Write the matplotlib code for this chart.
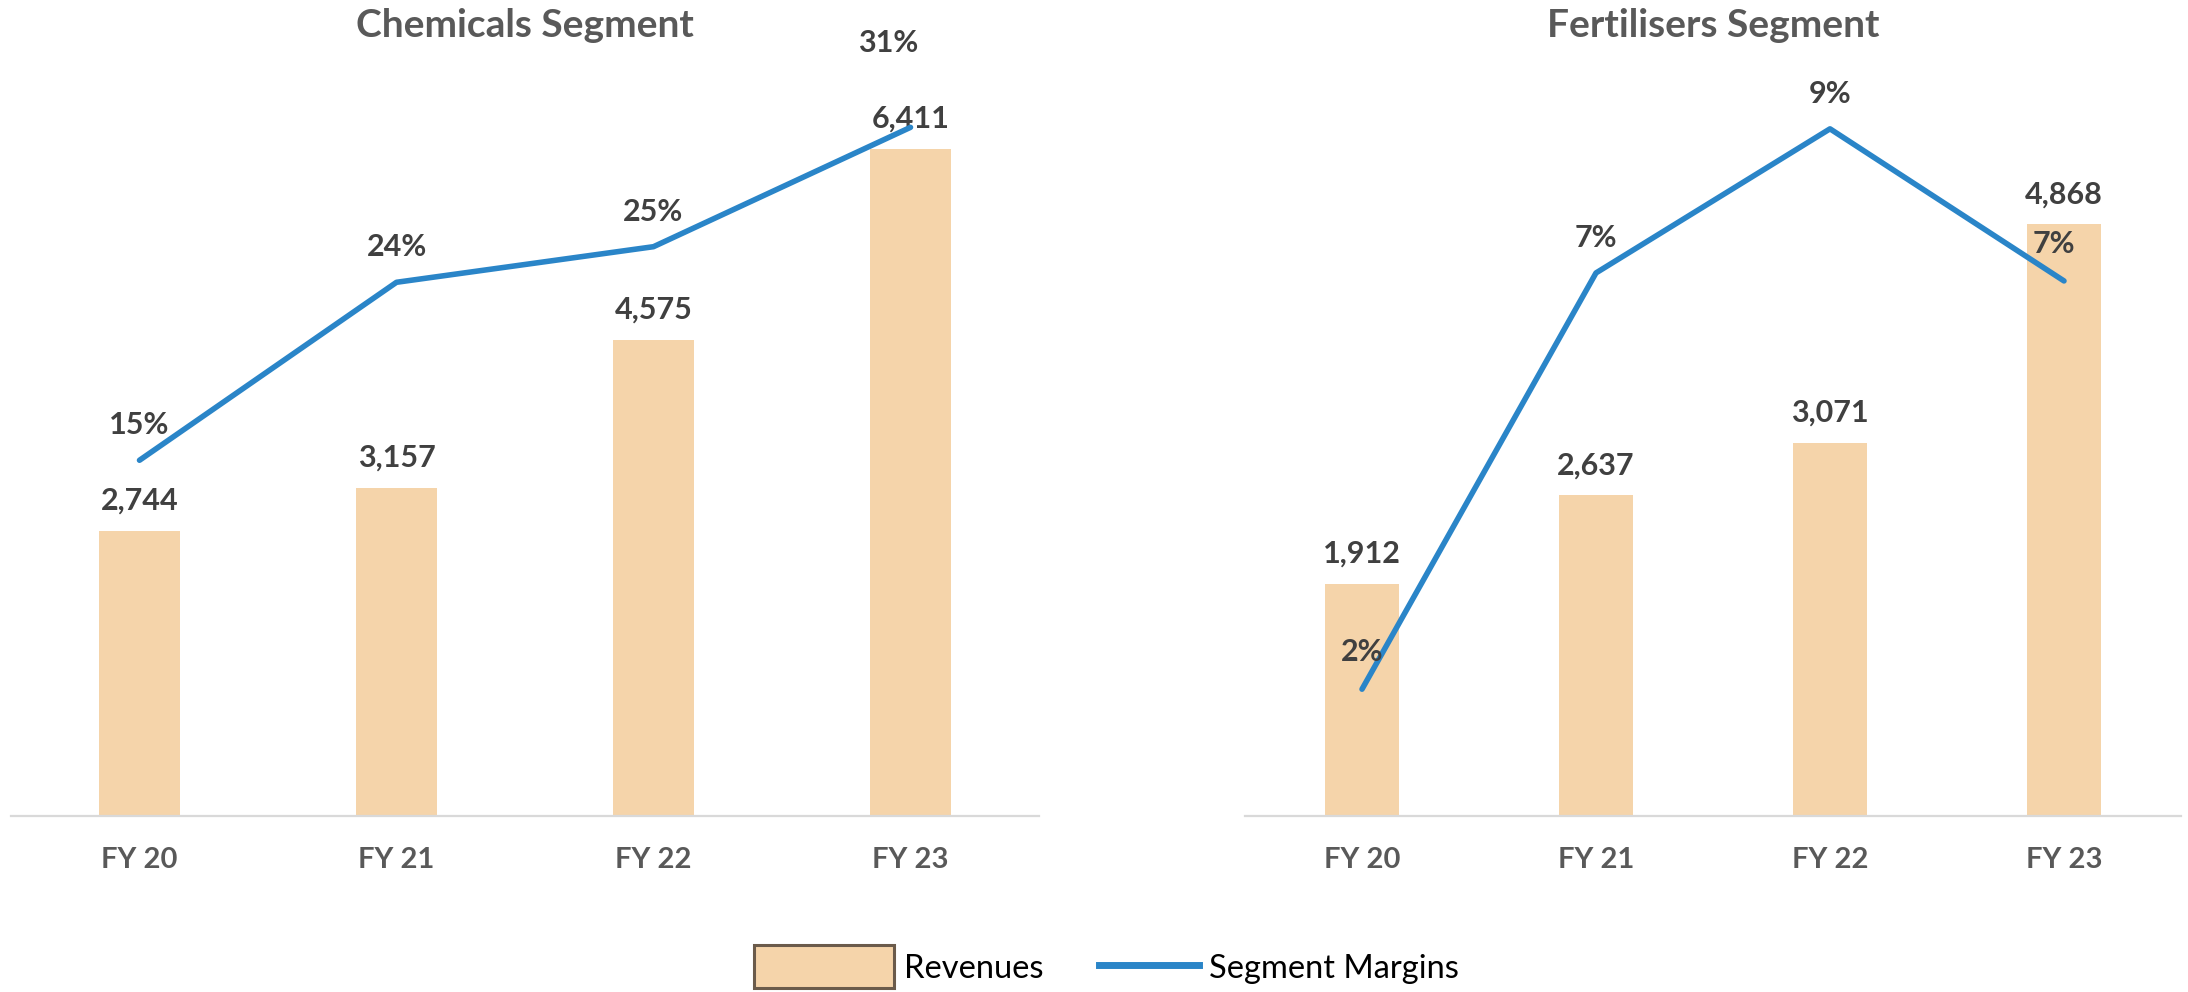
import matplotlib
matplotlib.use("Agg")
import matplotlib.pyplot as plt
from matplotlib.patches import Patch, Rectangle
from matplotlib.lines import Line2D
from matplotlib.legend_handler import HandlerPatch

# ---- data ----
categories = ["FY 20", "FY 21", "FY 22", "FY 23"]
chem_revenue = [2744, 3157, 4575, 6411]
chem_margin = [15.1, 23.6, 25.3, 31.0]
fert_revenue = [1912, 2637, 3071, 4868]
fert_margin = [2.0, 7.2, 9.0, 7.1]
titles = ["Chemicals Segment", "Fertilisers Segment"]

BAR = "#F5D4AA"
LINE = "#2A85C8"
LBL = "#404040"
GREY = "#595959"
FONT = "Lato"

plt.rcParams["font.family"] = [FONT, "DejaVu Sans"]

fig = plt.figure(figsize=(21.88, 9.92), dpi=100)

W, H = 2188.0, 992.0
bottom = 176 / H
height = 732 / H
rects = [(11 / W, bottom, 1028 / W, height), (1245 / W, bottom, 936 / W, height)]
ylims = [(0, 7036), (0, 6022)]
y2lims = [(-1.89, 33.07), (0.416, 9.56)]
pct_offsets = [
    [(0, 26), (0, 26), (0, 26), (-22, 75)],
    [(0, 28), (0, 26), (0, 26), (-10, 28)],
]

datasets = [(chem_revenue, chem_margin), (fert_revenue, fert_margin)]

for k, (rev, mar) in enumerate(datasets):
    ax = fig.add_axes(rects[k])
    x = list(range(len(categories)))
    ax.bar(x, rev, width=0.315, color=BAR, zorder=2)
    ax.set_xlim(-0.5, len(categories) - 0.5)
    ax.set_ylim(*ylims[k])
    for s in ["top", "left", "right"]:
        ax.spines[s].set_visible(False)
    ax.spines["bottom"].set_color("#D9D9D9")
    ax.spines["bottom"].set_linewidth(1.6)
    ax.set_yticks([])
    ax.set_xticks(x)
    ax.set_xticklabels(categories, fontsize=21, fontweight="bold", color=GREY)
    ax.tick_params(axis="x", length=0, pad=22)
    for i, v in enumerate(rev):
        ax.annotate(f"{v:,}", xy=(i, v), xytext=(0, 21), textcoords="offset pixels",
                    ha="center", va="baseline", fontsize=22, fontweight="bold", color=LBL)
    ax.text(0.5, 1.0806, titles[k], transform=ax.transAxes, ha="center", va="center",
            fontsize=28, fontweight="bold", color=GREY)

    ax2 = ax.twinx()
    ax2.plot(x, mar, color=LINE, linewidth=4, solid_capstyle="round", zorder=3)
    ax2.set_ylim(*y2lims[k])
    ax2.set_yticks([])
    for s in ["top", "left", "right", "bottom"]:
        ax2.spines[s].set_visible(False)
    for i, v in enumerate(mar):
        dx, dy = pct_offsets[k][i]
        ax2.annotate(f"{v:.0f}%", xy=(i, v), xytext=(dx, dy), textcoords="offset pixels",
                     ha="center", va="baseline", fontsize=22, fontweight="bold", color=LBL)


def big_patch(legend, orig_handle, xdescent, ydescent, width, height, fontsize):
    pw = 140 * 72 / 100.0
    ph = 43 * 72 / 100.0
    x0 = -xdescent + width - pw
    y0 = -ydescent + height / 2.0 - ph / 2.0
    return Rectangle((x0, y0), pw, ph)


handles = [
    Patch(facecolor=BAR, edgecolor="#6B5B4B", linewidth=2.2, label="Revenues"),
    Line2D([0], [0], color=LINE, linewidth=5, label="Segment Margins"),
]
fs = 23.5
fig.legend(handles=handles, loc="center left", bbox_to_anchor=(794 / W, 1 - 968 / H),
           ncol=2, frameon=False, fontsize=fs, handlelength=100 * 0.72 / fs,
           handleheight=1.0, borderpad=0, borderaxespad=0, handletextpad=0.3,
           columnspacing=1.7, labelcolor="black",
           handler_map={Patch: HandlerPatch(patch_func=big_patch)})

fig.savefig("out.png", dpi=100)
